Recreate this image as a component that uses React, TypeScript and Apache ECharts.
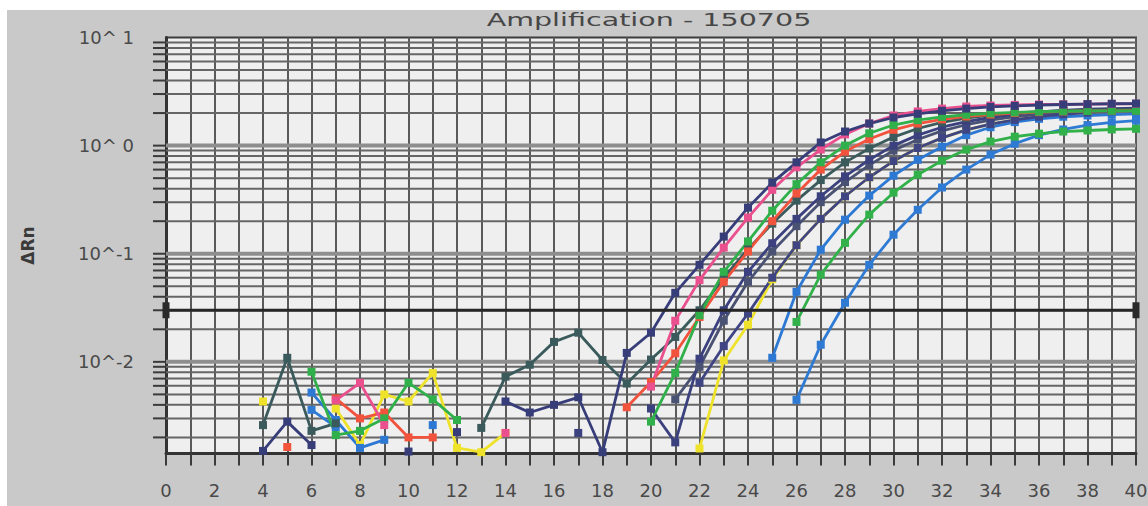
import React, { useEffect, useRef } from 'react';
import * as echarts from 'echarts';

// cycles 1..40
const cycles = [1, 2, 3, 4, 5, 6, 7, 8, 9, 10, 11, 12, 13, 14, 15, 16, 17, 18, 19, 20, 21, 22, 23, 24, 25, 26, 27, 28, 29, 30, 31, 32, 33, 34, 35, 36, 37, 38, 39, 40];

// ΔRn per cycle (null = not drawn / below the axis)
const yellowData = [null, null, null, 0.0043, null, null, 0.0037, 0.0017, 0.005, 0.0043, 0.0079, 0.0016, 0.00146, 0.0022, null, null, null, null, null, null, null, 0.00158, 0.0103, 0.022, 0.058, 0.12, 0.21, 0.34, 0.51, 0.72, 0.95, 1.18, 1.4, 1.58, 1.73, 1.85, 1.95, 2.02, 2.08, 2.12];
const blue2Data = [null, null, null, null, null, 0.0036, 0.0025, null, null, null, null, null, null, null, null, null, null, null, null, null, null, null, null, null, null, 0.00445, 0.0144, 0.0352, 0.079, 0.15, 0.255, 0.41, 0.6, 0.826, 1.04, 1.25, 1.41, 1.55, 1.64, 1.7];
const green2Data = [null, null, null, null, null, null, null, null, null, null, null, null, null, null, null, null, null, null, null, null, null, null, null, null, null, 0.0234, 0.064, 0.126, 0.23, 0.367, 0.538, 0.726, 0.918, 1.09, 1.21, 1.29, 1.35, 1.38, 1.41, 1.43];
const blue1Data = [null, null, null, null, null, 0.0052, 0.0029, 0.0016, 0.0019, null, 0.0026, null, null, null, null, null, null, null, null, null, null, null, null, null, 0.0109, 0.0445, 0.109, 0.2065, 0.345, 0.527, 0.74, 0.977, 1.25, 1.48, 1.65, 1.77, 1.85, 1.9, 1.94, 1.97];
const slateData = [null, null, null, null, null, null, null, null, null, null, null, null, null, null, null, null, null, null, null, null, 0.0045, 0.009, 0.024, 0.055, 0.105, 0.18, 0.3, 0.46, 0.66, 0.9, 1.14, 1.37, 1.56, 1.72, 1.85, 1.95, 2.03, 2.09, 2.13, 2.16];
const navyCData = [null, null, null, null, null, null, null, null, null, null, null, null, null, null, null, null, null, null, null, null, null, 0.0064, 0.0140, 0.028, 0.06, 0.12, 0.21, 0.34, 0.51, 0.72, 0.95, 1.18, 1.4, 1.58, 1.73, 1.85, 1.95, 2.02, 2.08, 2.12];
const navyBData = [null, null, null, null, null, null, null, null, null, null, null, null, null, null, null, null, 0.0022, null, null, 0.0037, 0.0018, 0.0107, 0.03, 0.068, 0.125, 0.21, 0.34, 0.52, 0.74, 1.0, 1.25, 1.48, 1.67, 1.82, 1.95, 2.05, 2.12, 2.17, 2.2, 2.22];
const tealData = [null, null, null, 0.0026, 0.0109, 0.0023, 0.0027, null, null, null, null, null, 0.00245, 0.0073, 0.0094, 0.0153, 0.0186, 0.0104, 0.0063, 0.0105, 0.017, 0.03, 0.06, 0.11, 0.19, 0.31, 0.48, 0.7, 0.94, 1.2, 1.44, 1.64, 1.8, 1.92, 2.0, 2.06, 2.1, 2.13, 2.15, 2.17];
const redData = [null, null, null, null, 0.00163, null, 0.0046, 0.003, 0.0034, 0.002, 0.002, null, null, null, null, null, null, null, 0.0038, 0.0065, 0.012, 0.026, 0.055, 0.105, 0.2, 0.36, 0.6, 0.88, 1.15, 1.4, 1.6, 1.75, 1.86, 1.94, 2.0, 2.04, 2.07, 2.09, 2.1, 2.11];
const green1Data = [null, null, null, null, null, 0.0081, 0.0021, 0.0023, 0.003, 0.0064, 0.0045, 0.0029, null, null, null, null, null, null, null, 0.0028, 0.0079, 0.027, 0.068, 0.13, 0.25, 0.44, 0.7, 1.0, 1.3, 1.55, 1.72, 1.84, 1.93, 1.99, 2.03, 2.06, 2.08, 2.09, 2.1, 2.1];
const pinkData = [null, null, null, null, null, null, 0.0044, 0.0064, 0.0026, null, null, null, null, 0.0022, null, null, null, null, null, 0.0059, 0.024, 0.057, 0.114, 0.216, 0.39, 0.63, 0.92, 1.27, 1.6, 1.9, 2.07, 2.2, 2.3, 2.35, 2.38, 2.4, 2.41, 2.42, 2.43, 2.44];
const navyAData = [null, null, null, 0.0015, 0.0028, 0.0017, null, null, null, 0.00148, null, 0.00224, null, 0.0043, 0.0034, 0.004, 0.0047, 0.00146, 0.0121, 0.0186, 0.0435, 0.079, 0.144, 0.267, 0.454, 0.7, 1.07, 1.35, 1.6, 1.82, 1.97, 2.1, 2.2, 2.28, 2.33, 2.37, 2.4, 2.42, 2.44, 2.45];

const seriesNames = ['Yellow', 'Blue 2', 'Green 2', 'Blue 1', 'Slate', 'Navy C', 'Navy B', 'Teal', 'Red', 'Green 1', 'Pink', 'Navy A'];
const seriesColors = ['#eee22a', '#2f7bd4', '#32b14b', '#2c78d2', '#4a5273', '#3f4583', '#3b407e', '#3a5a5c', '#f1533d', '#2fb04a', '#ea4f8e', '#373d78'];
const seriesValues = [yellowData, blue2Data, green2Data, blue1Data, slateData, navyCData, navyBData, tealData, redData, green1Data, pinkData, navyAData];

const thresholdValue = 0.03;
const xRange = [0, 40];
const yRange = [0.00142, 10];
const yDecades = [0.01, 0.1, 1, 10];
const yTickLabels = ['10^-2', '10^-1', '10^ 0', '10^ 1'];
const gridDecadeStarts = [0.001, 0.01, 0.1, 1];
const gridMantissas = [1, 2, 3, 4, 5, 6, 7, 8, 9];
const titleText = 'Amplification - 150705';
const yName = 'ΔRn';

const FONT = 'DejaVu Sans';

function isDecade(v: number) {
  const l = Math.log10(v);
  return Math.abs(l - Math.round(l)) < 1e-6;
}

export default function App() {
  const ref = useRef<HTMLDivElement>(null);
  useEffect(() => {
    if (!ref.current) return;
    const chart = echarts.init(ref.current, undefined, { renderer: 'svg' });

    const gridValues: number[] = [];
    gridDecadeStarts.forEach((d) => {
      gridMantissas.forEach((m) => {
        const v = +(d * m).toPrecision(6);
        if (v > yRange[0] && v < yRange[1]) gridValues.push(v);
      });
    });

    const lineSeries = seriesValues.map((arr, i) => ({
      name: seriesNames[i],
      type: 'line',
      data: cycles.map((c, j) => [c, arr[j] == null ? '-' : arr[j]]),
      symbol: 'rect',
      symbolSize: 8,
      showSymbol: true,
      connectNulls: false,
      lineStyle: { color: seriesColors[i], width: 2.8 },
      itemStyle: { color: seriesColors[i] },
      z: 3,
      silent: true,
    }));

    const option: any = {
      animation: false,
      backgroundColor: '#c9c9c9',
      grid: {
        left: 159,
        right: 12,
        top: 27.5,
        bottom: 52.5,
        show: true,
        backgroundColor: '#efefef',
        borderColor: '#3c3c3c',
        borderWidth: 2,
        containLabel: false,
        outerBoundsMode: 'none',
      },
      graphic: [
        {
          type: 'text',
          x: 642,
          y: 10,
          scaleX: 1.68,
          style: {
            text: titleText,
            fill: '#474747',
            font: `17px "${FONT}"`,
            align: 'center',
            verticalAlign: 'middle',
          },
        },
      ],
      xAxis: {
        type: 'value',
        min: xRange[0],
        max: xRange[1],
        interval: 2,
        axisLine: { show: true, onZero: false, lineStyle: { color: '#333333', width: 3 } },
        axisTick: { show: true, length: 12, lineStyle: { color: '#3a3a3a', width: 2 } },
        minorTick: { show: true, splitNumber: 2, length: 12, lineStyle: { color: '#3a3a3a', width: 2 } },
        splitLine: { show: true, lineStyle: { color: '#5a5a5a', width: 2 } },
        minorSplitLine: { show: true, lineStyle: { color: '#5a5a5a', width: 2 } },
        axisLabel: { color: '#4a4a4a', fontSize: 18, fontFamily: FONT, margin: 28 },
      },
      yAxis: {
        type: 'log',
        logBase: 10,
        min: yRange[0],
        max: yRange[1],
        name: yName,
        nameLocation: 'middle',
        nameRotate: 90,
        nameGap: 130,
        nameTextStyle: { color: '#3a3a3a', fontSize: 17, fontWeight: 'bold', fontFamily: FONT },
        axisLine: { show: true, lineStyle: { color: '#333333', width: 3 } },
        axisTick: { show: false },
        splitLine: { show: false },
        axisLabel: {
          color: '#4a4a4a',
          fontSize: 18,
          fontFamily: FONT,
          margin: 32,
          formatter: (v: number) => {
            const i = yDecades.findIndex((d) => Math.abs(Math.log10(v) - Math.log10(d)) < 1e-6);
            return i >= 0 ? yTickLabels[i] : '';
          },
        },
      },
      series: [
        {
          name: 'grid',
          type: 'custom',
          coordinateSystem: 'cartesian2d',
          clip: false,
          silent: true,
          z: 1,
          data: gridValues.map((v) => [xRange[0], v]),
          encode: { x: 0, y: 1 },
          renderItem: (params: any, api: any) => {
            const v = api.value(1);
            const a = api.coord([xRange[0], v]);
            const b = api.coord([xRange[1], v]);
            const major = isDecade(v);
            return {
              type: 'group',
              children: [
                {
                  type: 'line',
                  shape: { x1: a[0], y1: a[1], x2: b[0], y2: b[1] },
                  style: { stroke: major ? '#8e8e8e' : '#666666', lineWidth: major ? 4 : 2 },
                },
                {
                  type: 'line',
                  shape: { x1: a[0] - 13, y1: a[1], x2: a[0], y2: a[1] },
                  style: { stroke: '#3a3a3a', lineWidth: 2 },
                },
              ],
            };
          },
        },
        ...lineSeries,
        {
          name: 'Threshold',
          type: 'line',
          data: [[xRange[0], thresholdValue], [xRange[1], thresholdValue]],
          symbol: 'rect',
          symbolSize: [7, 16],
          clip: false,
          lineStyle: { color: '#262626', width: 3 },
          itemStyle: { color: '#2a2a2a' },
          z: 5,
          silent: true,
        },
      ],
    };
    chart.setOption(option);
    return () => chart.dispose();
  }, []);

  return (
    <div
      ref={ref}
      style={{ position: 'absolute', left: 7, top: 10, width: 1141, height: 496 }}
    />
  );
}
